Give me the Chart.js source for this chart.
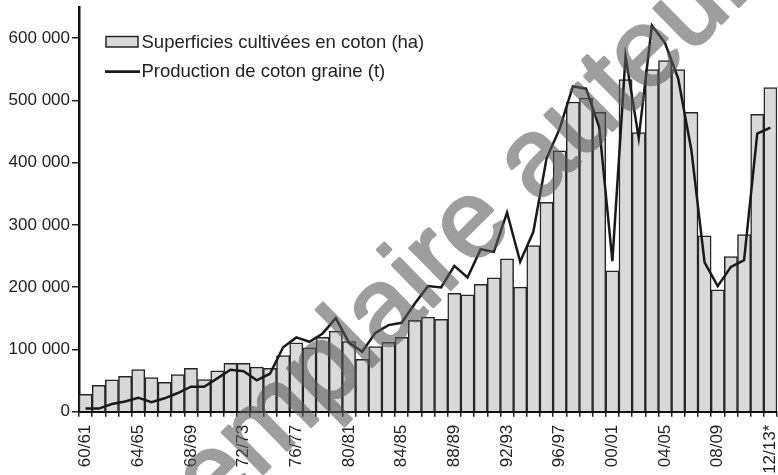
<!DOCTYPE html>
<html><head><meta charset="utf-8">
<script src="https://cdn.jsdelivr.net/npm/chart.js@4.4.1/dist/chart.umd.min.js"></script>
<style>html,body{margin:0;padding:0;background:#fff}#wrap{width:778px;height:475px}</style>
</head><body><div id="wrap"><canvas id="c" width="778" height="475"></canvas></div>
<script>
const seasons = ['60/61','61/62','62/63','63/64','64/65','65/66','66/67','67/68','68/69','69/70',
  '70/71','71/72','72/73','73/74','74/75','75/76','76/77','77/78','78/79','79/80',
  '80/81','81/82','82/83','83/84','84/85','85/86','86/87','87/88','88/89','89/90',
  '90/91','91/92','92/93','93/94','94/95','95/96','96/97','97/98','98/99','99/00',
  '00/01','01/02','02/03','03/04','04/05','05/06','06/07','07/08','08/09','09/10',
  '10/11','11/12','12/13*'];
const areaHa = [28000, 42500, 51000, 57000, 67500, 55000, 47000, 59500, 69500, 51500,
  65500, 77500, 77500, 71500, 69500, 90000, 110500, 102500, 119500, 129500,
  112500, 84000, 104500, 111300, 119400, 146600, 151900, 148200, 190000, 187700,
  204400, 215000, 245500, 200100, 267000, 336400, 418800, 497400, 503800, 480800,
  226200, 533300, 448300, 549300, 563800, 549300, 480800, 282400, 195700, 249300,
  284600, 477600, 520400];
const productionT = [5000, 5000, 12300, 16500, 22500, 15200, 21500, 30000, 40100, 40100,
  53500, 67500, 65000, 50300, 61000, 103500, 119300, 112300, 125700, 150300,
  111000, 96300, 126700, 139100, 142800, 173900, 201700, 199600, 234300, 215600,
  261000, 256700, 319900, 240700, 289000, 406500, 454600, 522500, 518800, 457300,
  241800, 570700, 439600, 620400, 592000, 534900, 419900, 239700, 201700, 232600,
  243400, 446700, 456300];
const yTickValues = [0, 100000, 200000, 300000, 400000, 500000, 600000];
const seriesNames = ['Superficies cultivées en coton (ha)', 'Production de coton graine (t)'];
const watermarkText = 'Exemplaire auteur';

const FONT = 'Liberation Sans, Arial, Helvetica, sans-serif';
const fmt = v => String(v).replace(/\B(?=(\d{3})+(?!\d))/g, ' ');

const legendPlugin = {
  id: 'legendInside',
  afterDatasetsDraw(chart) {
    const ctx = chart.ctx;
    ctx.save();
    ctx.fillStyle = '#d9d9d9';
    ctx.fillRect(106, 36.5, 32, 10.5);
    ctx.strokeStyle = '#262626';
    ctx.lineWidth = 1.5;
    ctx.strokeRect(106, 36.5, 32, 10.5);
    ctx.beginPath();
    ctx.moveTo(105, 71.7);
    ctx.lineTo(140, 71.7);
    ctx.lineWidth = 2.8;
    ctx.strokeStyle = '#1a1a1a';
    ctx.stroke();
    ctx.fillStyle = '#222';
    ctx.font = '18.5px ' + FONT;
    ctx.textBaseline = 'middle';
    ctx.textAlign = 'left';
    ctx.fillText(chart.data.datasets[1].label, 141.5, 42.5);
    ctx.fillText(chart.data.datasets[0].label, 141.5, 72);
    ctx.restore();
  }
};

const watermarkPlugin = {
  id: 'watermark',
  afterDraw(chart) {
    const ctx = chart.ctx;
    const off = document.createElement('canvas');
    off.width = chart.width; off.height = chart.height;
    const o = off.getContext('2d');
    const F = 110;
    o.font = F + 'px ' + FONT;
    o.translate(216, 480);
    o.rotate(-44.5 * Math.PI / 180);
    const pre = o.measureText('Ex').width + o.measureText('e').width / 2;
    o.fillStyle = '#585858';
    o.strokeStyle = '#585858';
    o.lineWidth = 3;
    o.lineJoin = 'round';
    o.textBaseline = 'alphabetic';
    o.textAlign = 'left';
    o.fillText(watermarkText, -pre, 0.26 * F);
    o.strokeText(watermarkText, -pre, 0.26 * F);
    ctx.save();
    ctx.globalAlpha = 0.58;
    ctx.drawImage(off, 0, 0);
    ctx.restore();
  }
};

new Chart(document.getElementById('c'), {
  type: 'bar',
  data: {
    labels: seasons,
    datasets: [
      {
        type: 'line', label: seriesNames[1], data: productionT,
        borderColor: '#1a1a1a', borderWidth: 2.5, pointRadius: 0, tension: 0, order: 0
      },
      {
        type: 'bar', label: seriesNames[0], data: areaHa,
        backgroundColor: '#d9d9d9', borderColor: '#262626', borderWidth: 1.5,
        barPercentage: 1, categoryPercentage: 1, order: 1
      }
    ]
  },
  options: {
    responsive: false, animation: false, devicePixelRatio: 1,
    layout: { padding: { top: 7, right: 1, left: 0, bottom: 0 } },
    plugins: { legend: { display: false }, tooltip: { enabled: false } },
    scales: {
      x: {
        offset: true,
        grid: { display: true, drawOnChartArea: false, drawTicks: true, tickLength: 5, color: '#222', lineWidth: 1.5, offset: true },
        border: { color: '#111', width: 2 },
        ticks: {
          autoSkip: false, minRotation: 90, maxRotation: 90, padding: 8,
          color: '#222', font: { family: FONT, size: 17 },
          callback: (v, i) => (i % 4 === 0 ? seasons[i] : '')
        },
        afterFit: s => { s.height = 63.3; s.paddingLeft = 0; s.paddingRight = 0; }
      },
      y: {
        min: 0, max: 650000,
        afterBuildTicks: s => { s.ticks = yTickValues.map(v => ({ value: v })); },
        grid: { drawOnChartArea: false, tickLength: 7, color: '#222', lineWidth: 1.5 },
        border: { color: '#111', width: 2.5 },
        ticks: { padding: 2, color: '#222', font: { family: FONT, size: 17 }, callback: v => fmt(v) },
        afterFit: s => { s.width = 79; s.paddingTop = 0; s.paddingBottom = 0; }
      }
    }
  },
  plugins: [legendPlugin, watermarkPlugin]
});
</script></body></html>
